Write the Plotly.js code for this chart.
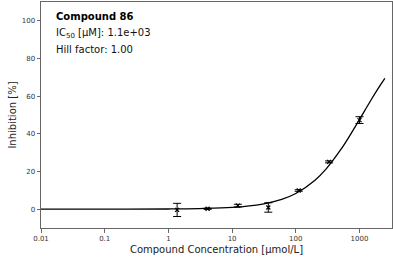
<!DOCTYPE html>
<html>
<head>
<meta charset="utf-8">
<script src="https://cdn.plot.ly/plotly-3.0.1.min.js"></script>
<style>html,body{margin:0;padding:0;background:#fff;}#chart{width:393px;height:263px;}</style>
</head>
<body>
<div id="chart"></div>
<script>
// Measured data points (concentration in µmol/L, inhibition in %)
const concentrations = [1.37, 4.12, 12.3, 37, 111, 333, 1000];
const inhibition = [-0.4, 0.2, 1.9, 0.9, 9.9, 25.1, 47.3];
const inhibitionErr = [3.5, 0.3, 0.7, 2.5, 0.4, 0.5, 1.8];

// Fitted curve
const curveX = [0.01, 0.1, 1, 3, 10, 30, 60, 100, 200, 300, 500, 700, 1000, 1500, 2000, 2500];
const curveY = [0.0, 0.0, 0.1, 0.3, 0.9, 2.7, 5.2, 8.3, 15.4, 21.4, 31.3, 38.9, 47.6, 57.7, 64.5, 69.4];

const xTickVals = [0.01, 0.1, 1, 10, 100, 1000];
const xTickText = ["0.01", "0.1", "1", "10", "100", "1000"];
const yTickVals = [0, 20, 40, 60, 80, 100];

const compoundName = "Compound 86";
const ic50Text = "IC<sub>50</sub> [μM]: 1.1e+03";
const hillText = "Hill factor: 1.00";

const font = "DejaVu Sans, sans-serif";

const traces = [
  {
    x: curveX, y: curveY, mode: "lines", type: "scatter",
    line: {color: "#000", width: 1.3, shape: "spline"},
    hoverinfo: "skip", showlegend: false
  },
  {
    x: concentrations, y: inhibition, mode: "markers", type: "scatter",
    marker: {symbol: "x-thin-open", size: 4, color: "#000", line: {color: "#000", width: 1.2}},
    error_y: {type: "data", array: inhibitionErr, visible: true, color: "#000", thickness: 1, width: 4},
    showlegend: false
  }
];

const axisCommon = {
  showline: true, mirror: true, linecolor: "#666", linewidth: 1,
  ticks: "outside", ticklen: 3.5, tickwidth: 0.8, tickcolor: "#444",
  showgrid: false, zeroline: false,
  tickfont: {family: font, size: 7, color: "#333"}
};

const layout = {
  width: 393, height: 263,
  margin: {l: 41, r: 1, t: 2, b: 35},
  paper_bgcolor: "#fff", plot_bgcolor: "#fff",
  font: {family: font, color: "#222"},
  xaxis: Object.assign({}, axisCommon, {
    type: "log", range: [-2, 3.51],
    tickvals: xTickVals, ticktext: xTickText,
    title: {text: "Compound Concentration [μmol/L]", font: {family: font, size: 10, color: "#222"}, standoff: 4}
  }),
  yaxis: Object.assign({}, axisCommon, {
    range: [-10, 110],
    tickvals: yTickVals,
    title: {text: "Inhibition [%]", font: {family: font, size: 10, color: "#222"}, standoff: 3}
  }),
  annotations: [
    {text: "<b>" + compoundName + "</b>", xref: "paper", yref: "paper", x: 0.037, y: 0.935,
     xanchor: "left", yanchor: "middle", showarrow: false, font: {family: font, size: 10, color: "#000"}},
    {text: ic50Text, xref: "paper", yref: "paper", x: 0.037, y: 0.862,
     xanchor: "left", yanchor: "middle", showarrow: false, font: {family: font, size: 10, color: "#111"}},
    {text: hillText, xref: "paper", yref: "paper", x: 0.037, y: 0.792,
     xanchor: "left", yanchor: "middle", showarrow: false, font: {family: font, size: 10, color: "#111"}}
  ]
};

Plotly.newPlot("chart", traces, layout, {displayModeBar: false, staticPlot: true});
</script>
</body>
</html>
